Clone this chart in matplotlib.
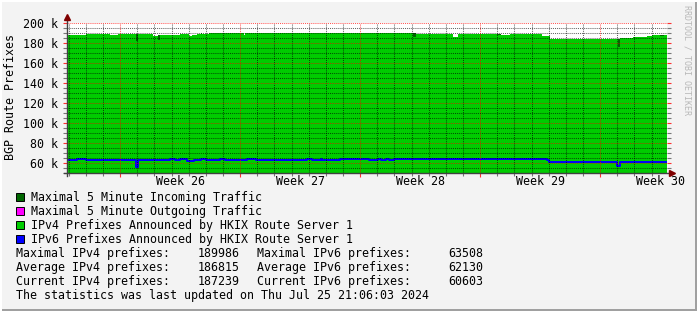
import numpy as np
import matplotlib
matplotlib.use("Agg")
import matplotlib.pyplot as plt
from matplotlib.patches import Rectangle
from matplotlib.transforms import blended_transform_factory

# time axis: days relative to the start of Week 30 (Mon Jul 22 2024)
x_end = 3.9
x_start = x_end - 35.0
week_starts = [-28, -21, -14, -7, 0]
week_labels = ["Week 26", "Week 27", "Week 28", "Week 29", "Week 30"]

# IPv4 prefixes (thousands), step series
ipv4_days = [-31.1, -30.3, -30.0, -28.6, -28.1, -27.1, -26.95, -26.1, -25.8, -25.65,
             -24.5, -24.0, -23.8, -23.5, -23.3, -23.2, -22.8, -20.8, -20.7, -18.1,
             -17.1, -15.0, -13.4, -10.9, -10.75, -9.9, -9.2, -8.6, -8.3, -7.4,
             -6.0, -5.8, -5.25, -3.4, -2.9, -1.0, -0.4, 1.05, 1.17, 1.9,
             2.75, 3.0, 3.5, 3.73]
ipv4_avg = [187.7, 187.2, 188.4, 187.7, 188.4, 182.0, 188.4, 187.0, 182.5, 187.7,
            188.4, 186.5, 187.3, 188.5, 189.7, 189.0, 189.7, 187.5, 189.7, 189.2,
            189.7, 189.9, 189.5, 186.0, 189.0, 188.5, 189.0, 186.0, 188.5, 188.2,
            187.2, 187.5, 188.5, 186.5, 183.3, 183.8, 183.3, 176.0, 184.3, 185.3,
            187.0, 187.5, 186.8, 187.2]
ipv4_max = [187.7, 187.2, 188.4, 187.7, 188.4, 188.4, 188.4, 187.0, 187.7, 187.7,
            188.4, 186.5, 187.3, 188.5, 189.7, 189.0, 189.7, 187.5, 189.7, 189.7,
            189.7, 190.0, 189.5, 189.5, 189.0, 188.5, 189.0, 186.0, 188.5, 188.2,
            188.2, 187.5, 188.5, 186.5, 183.3, 183.8, 183.3, 183.3, 184.3, 185.3,
            187.0, 187.5, 187.3, 187.2]

# IPv6 prefixes (thousands), step series
ipv6_days = [-31.1, -30.9, -30.5, -30.0, -27.1, -26.95, -26.6, -25.1, -24.8, -24.5,
             -24.1, -23.7, -23.3, -23.0, -22.2, -21.9, -21.4, -20.9, -20.6, -20.1,
             -17.1, -16.8, -16.3, -16.2, -15.2, -13.5, -12.95, -12.8, -12.5, -12.3,
             -12.0, -3.1, -3.0, 1.0, 1.15, 2.9]
ipv6_avg = [62.5, 62.2, 63.2, 62.2, 56.0, 62.8, 62.2, 63.2, 62.2, 63.2,
            61.5, 62.2, 63.2, 62.2, 63.2, 62.2, 62.8, 62.2, 63.2, 62.2,
            63.2, 62.2, 63.2, 62.2, 63.2, 62.5, 63.2, 62.5, 63.2, 62.5,
            63.2, 62.2, 60.8, 56.8, 60.1, 60.8]

y_ticks = [60, 80, 100, 120, 140, 160, 180, 200]

legend_items = [("#006600", "Maximal 5 Minute Incoming Traffic"),
                ("#ff00ff", "Maximal 5 Minute Outgoing Traffic"),
                ("#00cc00", "IPv4 Prefixes Announced by HKIX Route Server 1"),
                ("#0000ff", "IPv6 Prefixes Announced by HKIX Route Server 1")]
stat_rows = [("Maximal IPv4 prefixes:", "189986", "Maximal IPv6 prefixes:", "63508"),
             ("Average IPv4 prefixes:", "186815", "Average IPv6 prefixes:", "62130"),
             ("Current IPv4 prefixes:", "187239", "Current IPv6 prefixes:", "60603")]
footer = "The statistics was last updated on Thu Jul 25 21:06:03 2024"

W, H = 697, 311
MONO = "DejaVu Sans Mono"
FS = 8.38


def fx(px):
    return px / W


def fy(py):
    return 1 - py / H


fig = plt.figure(figsize=(W / 100, H / 100), dpi=100, facecolor="#f3f3f3")
ax = fig.add_axes([fx(67), fy(172.5), 600 / W, 150 / H])
ax.set_facecolor("white")
ax.set_xlim(x_start, x_end)
ax.set_ylim(50, 200)


def stepped(days, vals):
    return np.append(days, x_end), np.append(vals, vals[-1])


d4, m4 = stepped(ipv4_days, ipv4_max)
_, a4 = stepped(ipv4_days, ipv4_avg)
ax.fill_between(d4, 0, m4, step="post", color="#006600", lw=0, zorder=1)
ax.fill_between(d4, 0, a4, step="post", color="#00cc00", lw=0, zorder=2)
d6, a6 = stepped(ipv6_days, ipv6_avg)
ax.step(d6, a6, where="post", color="#0000ff", lw=1.4, zorder=3)

# grid drawn over the data, rrdtool style
dots = (0, (1, 1))
minor_col = (0, 0, 0, 0.6)
major_col = (1, 0, 0, 0.65)
for v in np.arange(55, 200, 5):
    if v % 20 != 0:
        ax.axhline(v, color=minor_col, lw=0.75, ls=dots, zorder=4)
for d in np.arange(np.ceil(x_start), x_end):
    if d % 7 != 0:
        ax.axvline(d, color=minor_col, lw=0.75, ls=dots, zorder=4)
for v in y_ticks:
    ax.axhline(v, color=major_col, lw=0.75, ls=dots, zorder=5)
for d in week_starts:
    ax.axvline(d, color=major_col, lw=0.75, ls=dots, zorder=5)

# ticks
ax.set_yticks(y_ticks)
ax.set_yticklabels([f"{v} k" for v in y_ticks], fontfamily=MONO, fontsize=FS)
ax.set_yticks(np.arange(50, 201, 5), minor=True)
ax.set_xticks(week_starts)
ax.set_xticklabels([])
ax.set_xticks(np.arange(np.ceil(x_start), x_end), minor=True)
ax.tick_params(axis="y", which="major", direction="out", length=3, width=0.8,
               color="#ff3030", pad=3.2, right=True, labelcolor="black")
ax.tick_params(axis="y", which="minor", direction="out", length=3, width=0.8,
               color="#777777", right=True)
ax.tick_params(axis="x", which="major", direction="out", length=3, width=0.8,
               color="#ff3030")
ax.tick_params(axis="x", which="minor", direction="out", length=2, width=0.8,
               color="#777777")

trans = blended_transform_factory(ax.transData, ax.transAxes)
for d, lab in zip(week_starts, week_labels):
    ax.text(d + 3.5, -9 / 150, lab, transform=trans, ha="center", va="center",
            fontfamily=MONO, fontsize=FS)

# axes with arrows
for s in ["top", "right", "left", "bottom"]:
    ax.spines[s].set_visible(False)
ax.plot([0, 0], [-0.02, 1.03], transform=ax.transAxes, color="#404040",
        lw=1.0, clip_on=False, zorder=6)
ax.plot([-0.005, 1.005], [0, 0], transform=ax.transAxes, color="#404040",
        lw=1.0, clip_on=False, zorder=6)
ax.plot([0], [1.035], transform=ax.transAxes, marker="^", ms=5,
        color="#800000", clip_on=False, zorder=7)
ax.plot([1.009], [0], transform=ax.transAxes, marker=">", ms=5,
        color="#800000", clip_on=False, zorder=7)

fig.text(fx(11), fy(97), "BGP Route Prefixes", rotation=90, ha="center",
         va="center", fontfamily=MONO, fontsize=FS)
fig.text(fx(686.5), fy(60), "RRDTOOL / TOBI OETIKER", rotation=270, ha="center",
         va="center", fontfamily=MONO, fontsize=6, color="#b8b8b8")

# legend
for i, (col, lab) in enumerate(legend_items):
    yc = 197.3 + 14 * i
    fig.patches.append(Rectangle((fx(15.5), fy(yc + 4)), 8 / W, 8 / H,
                                 transform=fig.transFigure, facecolor=col,
                                 edgecolor="black", lw=0.7))
    fig.text(fx(31), fy(yc), lab, ha="left", va="center",
             fontfamily=MONO, fontsize=FS)

for i, (l1, v1, l2, v2) in enumerate(stat_rows):
    yc = 253.3 + 14 * i
    fig.text(fx(16), fy(yc), l1, ha="left", va="center", fontfamily=MONO, fontsize=FS)
    fig.text(fx(240), fy(yc), v1, ha="right", va="center", fontfamily=MONO, fontsize=FS)
    fig.text(fx(257), fy(yc), l2, ha="left", va="center", fontfamily=MONO, fontsize=FS)
    fig.text(fx(483), fy(yc), v2, ha="right", va="center", fontfamily=MONO, fontsize=FS)
fig.text(fx(16), fy(295.3), footer, ha="left", va="center", fontfamily=MONO, fontsize=FS)

# 3D-ish frame
fig.patches.append(Rectangle((fx(694.5), 0), 2.5 / W, 1, transform=fig.transFigure,
                             facecolor="#a0a0a0", lw=0))
fig.patches.append(Rectangle((0, 0), 1, 2.5 / H, transform=fig.transFigure,
                             facecolor="#a0a0a0", lw=0))
fig.patches.append(Rectangle((0, fy(1.5)), 1, 1.5 / H, transform=fig.transFigure,
                             facecolor="white", lw=0))
fig.patches.append(Rectangle((0, 0), 1.5 / W, 1, transform=fig.transFigure,
                             facecolor="white", lw=0))

fig.savefig("out.png", dpi=100, facecolor=fig.get_facecolor())
